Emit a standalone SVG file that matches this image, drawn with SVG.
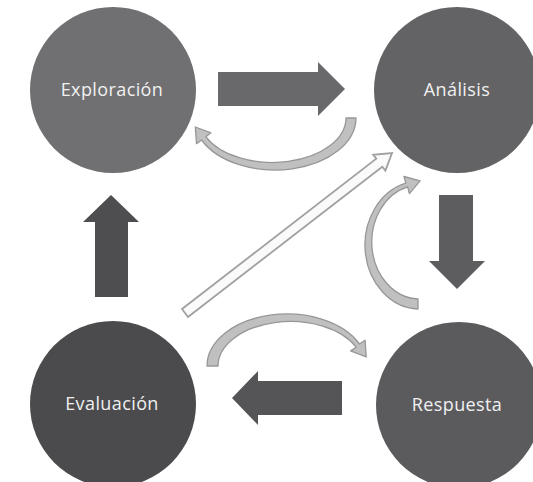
<svg xmlns="http://www.w3.org/2000/svg" width="533" height="482" viewBox="0 0 533 482">
<style>
.lbl{font-family:"Open Sans","Liberation Sans",sans-serif;font-size:18px;fill:#f0f0f0;text-anchor:middle;letter-spacing:0.4px}
.curve{fill:#c0c0c0;stroke:#979797;stroke-width:1.3;stroke-linejoin:round}
.diag{fill:#fafafa;stroke:#a0a0a0;stroke-width:1.8;stroke-linejoin:miter}
</style>
<rect width="533" height="482" fill="#ffffff"/>
<g id="connectors">
  <polygon id="arrow-right" points="218,72 318,72 318,62 345,89 318,116 318,106 218,106" fill="#69696c"/>
  <polygon id="arrow-down" points="439,195 473,195 473,261 485,261 457,289 429,261 439,261" fill="#5d5d60"/>
  <polygon id="arrow-left" points="342,381 258,381 258,371 232,398 258,425 258,415 342,415" fill="#555558"/>
  <polygon id="arrow-up" points="95,297 95,222 83,222 111,195 139,222 128,222 128,297" fill="#4e4e51"/>
  <path id="curve-top" class="curve" d="M356,118 A81,52 0 0 1 201.6,140 L196.5,143.6 L195.3,127 L210.9,132.8 L205.9,136.8 A73.5,44.5 0 0 0 346,118 Z"/>
  <path id="curve-right" class="curve" d="M418,309 A55,64 0 0 1 405.8,183.2 L404,176.5 L420.1,180.8 L409.4,193.6 L407.6,186.9 A48,57 0 0 0 418,299 Z"/>
  <path id="curve-bottom" class="curve" d="M207,366 A80,52 0 0 1 359.5,344 L365.1,340.3 L366.2,356.9 L350.6,350.9 L356.2,347.2 A72.5,44.5 0 0 0 218,366 Z"/>
  <polygon id="diagonal" class="diag" points="188,317 382.3,166.7 385.4,170.6 392,153 373.2,154.8 376.3,158.7 182,309"/>
</g>
<g id="node-exploracion">
  <circle cx="113" cy="90" r="83" fill="#707073"/>
  <text class="lbl" x="112" y="96">Exploración</text>
</g>
<g id="node-analisis">
  <circle cx="457" cy="90" r="83" fill="#636366"/>
  <text class="lbl" x="457" y="96">Análisis</text>
</g>
<g id="node-evaluacion">
  <circle cx="113" cy="404" r="83" fill="#4b4b4e"/>
  <text class="lbl" x="112" y="410">Evaluación</text>
</g>
<g id="node-respuesta">
  <circle cx="459" cy="405" r="83" fill="#5b5b5e"/>
  <text class="lbl" x="457" y="411">Respuesta</text>
</g>
</svg>
